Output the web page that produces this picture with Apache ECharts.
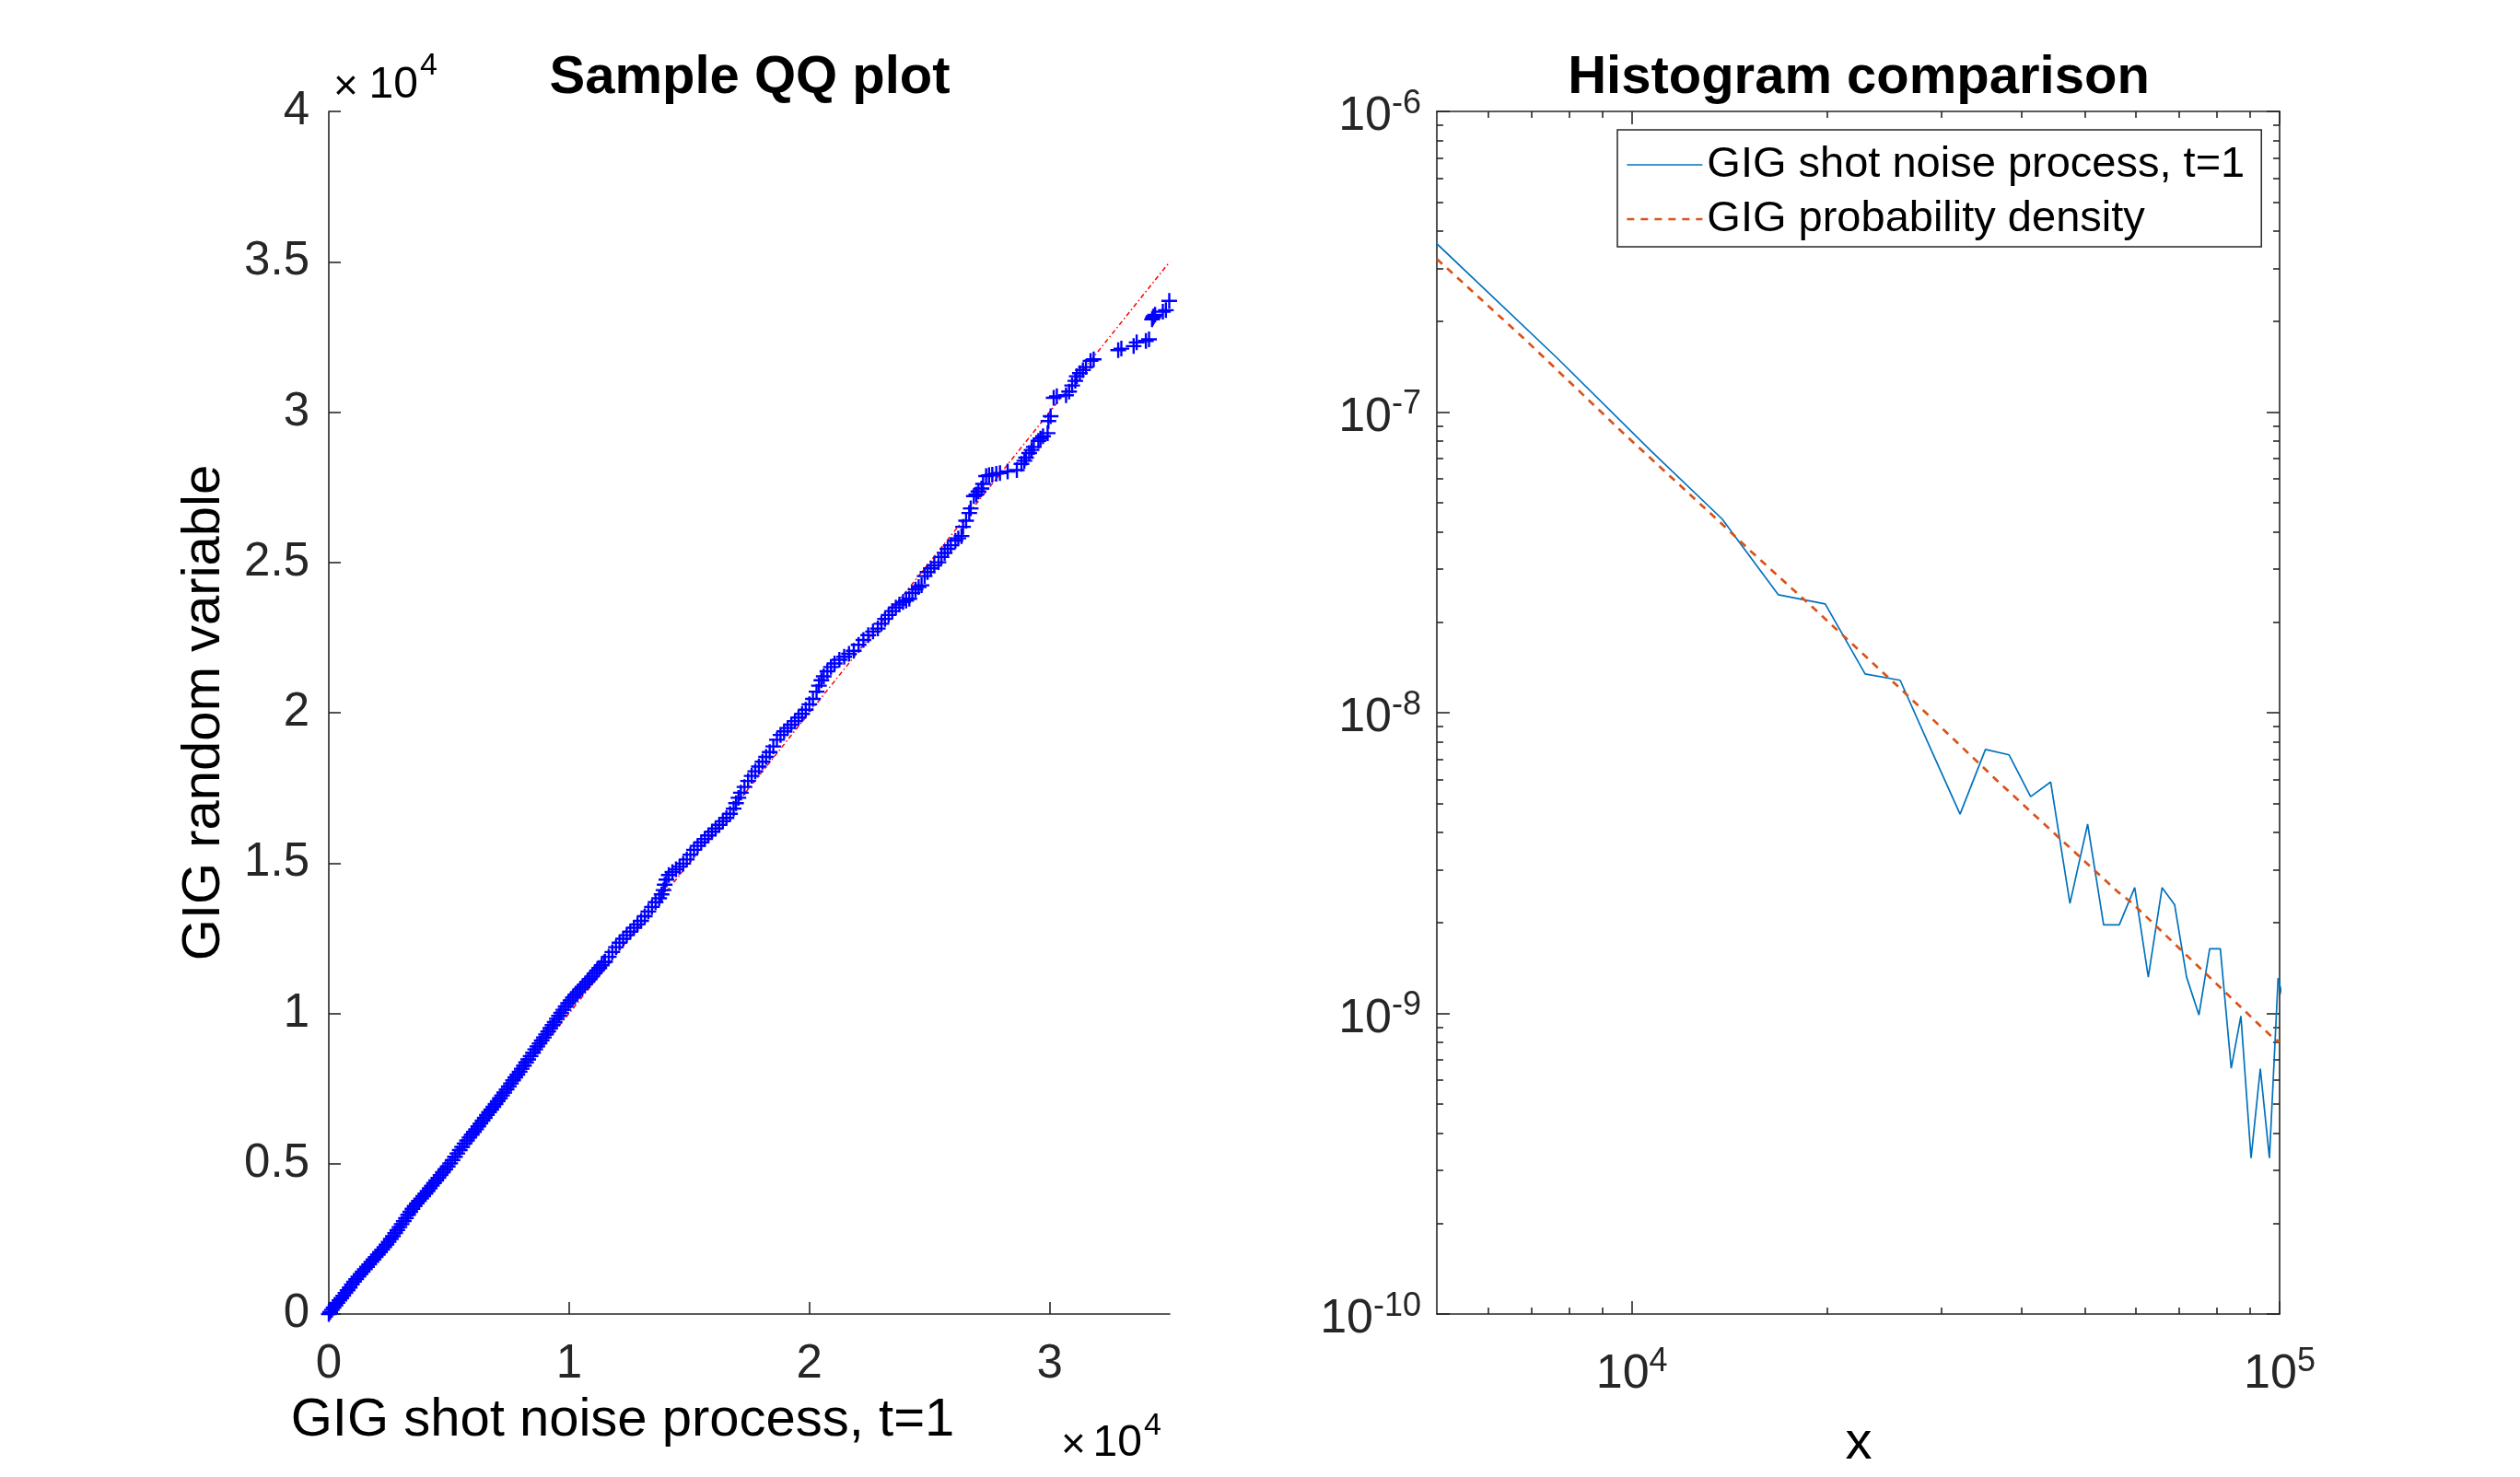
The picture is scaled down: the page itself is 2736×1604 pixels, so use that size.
<!DOCTYPE html>
<html>
<head>
<meta charset="utf-8">
<script src="https://cdn.jsdelivr.net/npm/echarts@6/dist/echarts.min.js"></script>
<style>html,body{margin:0;padding:0;background:#fff}#c{width:2736px;height:1604px}</style>
</head>
<body>
<div id="c"></div>
<script>
// ---------- data ----------
// QQ plot: [GIG shot noise process quantile, GIG random variable quantile]
const qqQuantiles = [
[0,0],[60,70],[130,140],[200,215],[280,290],[360,370],[440,450],[520,530],[600,610],[690,700],[780,790],[870,880],[960,985],[1050,1075],
[1140,1160],[1230,1245],[1320,1330],[1410,1410],[1500,1490],[1590,1570],[1680,1650],[1770,1735],[1860,1815],[1950,1895],[2040,1975],[2130,2060],[2220,2140],[2310,2225],
[2400,2310],[2490,2400],[2580,2495],[2670,2590],[2760,2690],[2850,2790],[2940,2890],[3030,2990],[3120,3090],[3210,3190],[3300,3300],[3390,3400],[3480,3500],[3570,3590],
[3660,3680],[3750,3760],[3840,3840],[3930,3920],[4020,4005],[4110,4090],[4200,4180],[4290,4270],[4380,4355],[4470,4440],[4560,4530],[4650,4620],[4750,4715],[4850,4815],
[4950,4910],[5050,5010],[5150,5120],[5250,5230],[5350,5340],[5450,5450],[5550,5560],[5650,5670],[5750,5770],[5850,5870],[5950,5965],[6040,6055],[6130,6145],
[6220,6240],[6310,6335],[6400,6430],[6490,6525],[6580,6620],[6670,6715],[6760,6800],[6850,6890],[6940,6985],[7030,7080],[7120,7175],[7210,7270],[7300,7365],[7400,7470],
[7490,7570],[7580,7670],[7670,7770],[7760,7870],[7850,7965],[7940,8060],[8030,8160],[8120,8260],[8210,8370],[8300,8470],[8400,8580],[8500,8690],[8590,8800],[8680,8900],
[8770,9000],[8860,9100],[8950,9200],[9040,9300],[9130,9400],[9220,9510],[9310,9610],[9400,9710],[9490,9820],[9580,9920],[9670,10020],[9760,10120],[9860,10230],[9960,10335],
[10060,10430],[10160,10530],[10260,10620],[10360,10710],[10460,10800],[10560,10880],[10660,10960],[10760,11050],[10860,11140],[10960,11230],[11060,11330],[11160,11420],[11260,11510],[11360,11600],[11460,11700],
[11500,11720],[11650,11880],[11800,12040],[11950,12200],[12100,12350],[12250,12480],[12400,12600],[12550,12720],[12700,12850],[12850,12960],[13000,13080],[13150,13230],[13300,13390],[13450,13540],
[13600,13700],[13750,13830],[13850,13960],[13930,14100],[13980,14280],[14050,14450],[14150,14600],[14300,14700],[14450,14790],[14600,14880],[14750,14980],[14900,15120],[15050,15280],[15200,15440],
[15350,15570],[15500,15690],[15650,15800],[15800,15920],[15950,16040],[16100,16150],[16250,16270],[16400,16390],[16550,16500],[16700,16640],[16850,16810],[16950,16990],[17050,17170],[17150,17340],
[17300,17530],[17450,17730],[17600,17900],[17750,18050],[17900,18210],[18050,18370],[18200,18530],[18350,18690],[18500,18880],[18650,19100],[18800,19260],[18950,19380],[19100,19490],[19250,19600],
[19400,19720],[19550,19840],[19700,19960],[19850,20100],[20000,20280],[20150,20460],[20300,20700],[20400,20900],[20500,21080],[20600,21210],[20750,21380],[20900,21520],[21050,21640],[21250,21760],
[21450,21860],[21650,21960],[21850,22060],[22050,22260],[22250,22420],[22450,22580],[22650,22700],[22850,22800],[23000,22960],[23150,23120],[23300,23250],[23450,23380],[23600,23500],[23750,23600],
[23900,23680],[24030,23730],[24160,23790],[24288,23984],[24420,24100],[24550,24180],[24672,24239],[24799,24545],[24920,24680],[25056,24802],[25200,24900],[25375,25005],[25500,25180],[25632,25312],
[25760,25450],[25888,25569],[26080,25722],[26200,25800],[26333,25876],[26398,26183],[26525,26385],[26656,26643],[26717,26796],[26847,27204],[26950,27260],[27039,27358],[27166,27459],[27231,27612],
[27358,27870],[27480,27900],[27615,27919],[27780,27950],[27934,27971],[28253,28023],[28637,28072],[28828,28278],[28950,28380],[29020,28482],[29151,28636],[29250,28740],[29342,28839],[29534,29044],
[29620,29120],[29726,29198],[29918,29299],[29950,29700],[30044,29863],[30170,30476],[30301,30526],[30684,30560],[30811,30680],[30938,30885],[31069,31038],[31130,31191],[31261,31293],[31387,31396],
[31513,31498],[31705,31703],[31835,31753],[32856,32059],[32987,32111],[33497,32194],[33624,32317],[34007,32366],[34138,32418],[34264,33083],[34300,33140],[34330,33185],[34391,33236],[34713,33338],
[34840,33390],[34980,33697]
];
// reference line of the QQ plot
const qqRefX = [0, 35000];
const qqRefY = [0, 35000];

// Histogram of the shot noise process (bin centres, density)
const histX = [4600,7660,10720,13780,16826,19885,22915,25955,29000,32115,35150,38230,41270,44320,47460,50540,53500,56560,59750,62700,65860,68850,71850,75070,77990,81000,84200,87150,90350,93370,96450,99470,102600];
const histY = [4.305e-7,1.516e-7,7.40e-8,4.413e-8,2.469e-8,2.30e-8,1.346e-8,1.282e-8,7.50e-9,4.60e-9,7.55e-9,7.24e-9,5.26e-9,5.88e-9,2.32e-9,4.26e-9,1.97e-9,1.97e-9,2.62e-9,1.32e-9,2.62e-9,2.30e-9,1.32e-9,9.87e-10,1.64e-9,1.64e-9,6.57e-10,9.80e-10,3.30e-10,6.55e-10,3.30e-10,1.31e-9,9.9e-10];
// GIG probability density
const pdfX = [5000,6838,9697,13750,15253,19290,26330,36930,56220,59030,97540,100000];
const pdfY = [3.23e-7,1.745e-7,8.52e-8,4.26e-8,3.45e-8,2.18e-8,1.17e-8,5.85e-9,2.54e-9,2.34e-9,8.31e-10,8.03e-10];

// tick labels / positions
const qqXTicks = [0, 10000, 20000, 30000];
const logXMajor = [10000, 100000];
const logXMinor = [6000,7000,8000,9000,20000,30000,40000,50000,60000,70000,80000,90000];
const logYMajor = [1e-10, 1e-9, 1e-8, 1e-7, 1e-6];
const logYMinor = [2e-10,3e-10,4e-10,5e-10,6e-10,7e-10,8e-10,9e-10,
                   2e-9,3e-9,4e-9,5e-9,6e-9,7e-9,8e-9,9e-9,
                   2e-8,3e-8,4e-8,5e-8,6e-8,7e-8,8e-8,9e-8,
                   2e-7,3e-7,4e-7,5e-7,6e-7,7e-7,8e-7,9e-7];
const legendNames = ['GIG shot noise process, t=1', 'GIG probability density'];

// ---------- chart ----------
const FONT = "'Liberation Sans', Arial, Helvetica, sans-serif";
const AX = '#262626';
const HIST_COLOR = '#0072BD';
const PDF_COLOR = '#D95319';
const PDF_DASH = [8, 7];
const inset = arr => arr.map((v, i) => i === 0 ? v * 1.000001 : (i === arr.length - 1 ? v * 0.999999 : v));
const logLabel = v => '{b|10}{s|' + Math.round(Math.log10(v)) + '}';
const richLog = {
  b: {fontSize: 52, lineHeight: 52, padding: [12, 0, 0, 0], color: AX, fontFamily: FONT},
  s: {fontSize: 36, lineHeight: 36, verticalAlign: 'top', color: AX, fontFamily: FONT}
};
const lineSt = {color: AX, width: 1.6};

function logAxis(extra) {
  return Object.assign({
    type: 'log', logBase: 10, splitLine: {show: false}, minorTick: {show: false},
    axisLine: {show: false, onZero: false, lineStyle: lineSt},
    axisLabel: {show: false}
  }, extra);
}

const xAxes = [
  {gridIndex: 0, type: 'value', min: 0, max: 35000, position: 'bottom',
   axisLine: {onZero: false, lineStyle: lineSt},
   axisTick: {inside: true, length: 13, customValues: qqXTicks, lineStyle: lineSt},
   axisLabel: {customValues: qqXTicks, formatter: v => String(v / 1e4), fontSize: 51, lineHeight: 60,
               margin: 25, color: AX, fontFamily: FONT},
   splitLine: {show: false}},
  logAxis({gridIndex: 1, min: 5000, max: 100000, position: 'bottom',
   axisLine: {show: true, onZero: false, lineStyle: lineSt},
   axisTick: {inside: true, length: 14, customValues: inset(logXMajor), lineStyle: lineSt},
   axisLabel: {show: true, customValues: inset(logXMajor), formatter: logLabel, rich: richLog, margin: 34}}),
  logAxis({gridIndex: 1, min: 5000, max: 100000, position: 'bottom',
   axisTick: {inside: true, length: 7, customValues: logXMinor, lineStyle: lineSt}}),
  logAxis({gridIndex: 1, min: 5000, max: 100000, position: 'top',
   axisLine: {show: true, onZero: false, lineStyle: lineSt},
   axisTick: {inside: true, length: 14, customValues: inset(logXMajor), lineStyle: lineSt}}),
  logAxis({gridIndex: 1, min: 5000, max: 100000, position: 'top',
   axisTick: {inside: true, length: 7, customValues: logXMinor, lineStyle: lineSt}})
];

const yAxes = [
  {gridIndex: 0, type: 'value', min: 0, max: 40000, interval: 5000, position: 'left',
   axisLine: {onZero: false, lineStyle: lineSt},
   axisTick: {inside: true, length: 13, lineStyle: lineSt},
   axisLabel: {formatter: v => String(v / 1e4), fontSize: 51, margin: 21, color: AX, fontFamily: FONT},
   splitLine: {show: false}},
  logAxis({gridIndex: 1, min: 1e-10, max: 1e-6, position: 'left',
   axisLine: {show: true, onZero: false, lineStyle: lineSt},
   axisTick: {inside: true, length: 14, customValues: inset(logYMajor), lineStyle: lineSt},
   axisLabel: {show: true, customValues: inset(logYMajor), formatter: logLabel, rich: richLog, margin: 17}}),
  logAxis({gridIndex: 1, min: 1e-10, max: 1e-6, position: 'left',
   axisTick: {inside: true, length: 7, customValues: logYMinor, lineStyle: lineSt}}),
  logAxis({gridIndex: 1, min: 1e-10, max: 1e-6, position: 'right',
   axisLine: {show: true, onZero: false, lineStyle: lineSt},
   axisTick: {inside: true, length: 14, customValues: inset(logYMajor), lineStyle: lineSt}}),
  logAxis({gridIndex: 1, min: 1e-10, max: 1e-6, position: 'right',
   axisTick: {inside: true, length: 7, customValues: logYMinor, lineStyle: lineSt}})
];

const plusPath = 'path://M-1,-0.14L-0.14,-0.14L-0.14,-1L0.14,-1L0.14,-0.14L1,-0.14L1,0.14L0.14,0.14L0.14,1L-0.14,1L-0.14,0.14L-1,0.14Z';
const zip = (a, b) => a.map((v, i) => [v, b[i]]);

function txt(text, x, y, font, align, extra) {
  return Object.assign({
    type: 'text', x: x, y: y, silent: true,
    style: {text: text, font: font, fill: '#000', textAlign: align, textVerticalAlign: 'middle',
            align: align, verticalAlign: 'middle'}
  }, extra || {});
}

const option = {
  animation: false,
  backgroundColor: '#fff',
  grid: [
    {left: 357, top: 121, width: 913, height: 1306, outerBoundsMode: 'none', containLabel: false},
    {left: 1560, top: 121, width: 915, height: 1306, outerBoundsMode: 'none', containLabel: false}
  ],
  xAxis: xAxes,
  yAxis: yAxes,
  legend: {
    data: [
      {name: legendNames[0], lineStyle: {color: HIST_COLOR, width: 1.7, type: 'solid'}},
      {name: legendNames[1], lineStyle: {color: PDF_COLOR, width: 2.7, type: PDF_DASH}}
    ],
    orient: 'vertical', left: 1756, top: 141,
    padding: [13, 18, 5, 9], itemGap: 9, itemWidth: 82, itemHeight: 14,
    borderColor: AX, borderWidth: 1.5, backgroundColor: '#fff',
    itemStyle: {opacity: 0, borderWidth: 0},
    lineStyle: {width: 'inherit', type: 'inherit', color: 'inherit'},
    textStyle: {fontSize: 47, lineHeight: 50, color: '#000', fontFamily: FONT},
    selectedMode: false
  },
  graphic: [
    txt('Sample QQ plot', 814, 85, 'bold 58px ' + FONT, 'center'),
    txt('Histogram comparison', 2018, 85, 'bold 58px ' + FONT, 'center'),
    txt('GIG random variable', 222, 774, '58px ' + FONT, 'center', {rotation: Math.PI / 2}),
    txt('GIG shot noise process, t=1', 676, 1543, '58px ' + FONT, 'center'),
    txt('x', 2018, 1568, '58px ' + FONT, 'center'),
    txt('\u00d7', 362, 95, '46px ' + FONT, 'left'),
    txt('10', 454, 93, '48px ' + FONT, 'right'),
    txt('4', 456, 72, '34px ' + FONT, 'left'),
    txt('\u00d7', 1152, 1570, '46px ' + FONT, 'left'),
    txt('10', 1240, 1568, '48px ' + FONT, 'right'),
    txt('4', 1242, 1549, '34px ' + FONT, 'left')
  ],
  series: [
    {type: 'line', name: 'qqref', xAxisIndex: 0, yAxisIndex: 0, data: zip(qqRefX, qqRefY),
     symbol: 'none', z: 2, silent: true,
     lineStyle: {color: '#ff0000', width: 1.5, type: [5, 3, 1.5, 3]}},
    {type: 'scatter', name: 'qq', xAxisIndex: 0, yAxisIndex: 0, data: qqQuantiles,
     symbol: plusPath, symbolSize: 17, z: 3, silent: true,
     itemStyle: {color: '#0000ff', opacity: 1}},
    {type: 'line', name: legendNames[0], xAxisIndex: 1, yAxisIndex: 1, data: zip(histX, histY),
     symbol: 'none', clip: true, z: 3, silent: true,
     itemStyle: {color: HIST_COLOR},
     lineStyle: {color: HIST_COLOR, width: 1.7}},
    {type: 'line', name: legendNames[1], xAxisIndex: 1, yAxisIndex: 1, data: zip(pdfX, pdfY),
     symbol: 'none', clip: true, z: 4, silent: true,
     itemStyle: {color: PDF_COLOR},
     lineStyle: {color: PDF_COLOR, width: 2.7, type: PDF_DASH}}
  ]
};

const chart = echarts.init(document.getElementById('c'), null, {renderer: 'canvas', width: 2736, height: 1604});
chart.setOption(option);
</script>
</body>
</html>
